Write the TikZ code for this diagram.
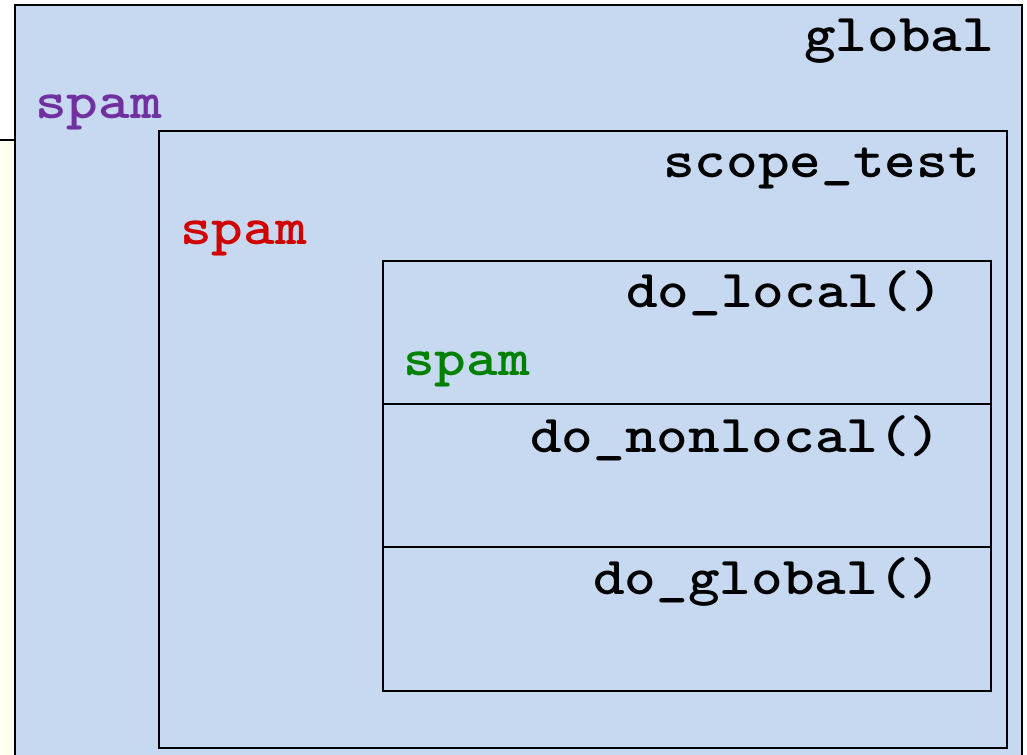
\documentclass[tikz,border=0pt]{standalone}
\usepackage{fontspec}
\newfontfamily\codefont{lmmonolt10-bold}[Extension=.otf, FakeStretch=1.13]
\definecolor{scopeblue}{HTML}{C6D9F0}
\definecolor{paleyellow}{HTML}{FFFFF0}
\definecolor{globalpurple}{HTML}{7030A0}
\definecolor{enclosingred}{HTML}{D00000}
\definecolor{localgreen}{HTML}{008000}
\tikzset{
  frame/.style={draw=black, line width=1.6pt},
  outerframe/.style={draw=black, line width=1.9pt},
  label/.style={inner sep=0pt, anchor=base west, font=\codefont\fontsize{40}{41}\selectfont},
}
\begin{document}
\begin{tikzpicture}[x={(0.75pt,0)}, y={(0,-0.75pt)}]
  \useasboundingbox (0,0) rectangle (1027,755);
  \clip (0,0) rectangle (1027,755);
  % page background: white above, pale yellow panel on the left
  \fill[white] (0,0) rectangle (1027,755);
  \fill[paleyellow] (0,140) rectangle (16,755);
  \draw[line width=1.5pt] (0,140) -- (16,140);
  % module (global) scope
  \draw[outerframe, fill=scopeblue] (15,5) rectangle (1022,800);
  % enclosing function scope
  \draw[frame] (159,131) rectangle (1007,748);
  % the three nested function scopes
  \draw[frame] (383,261) rectangle (991,691);
  \draw[frame] (383,404) -- (991,404);
  \draw[frame] (383,547) -- (991,547);
  % labels
  \node[label] (globalname) at (804,52) {global};
  \node[label, text=globalpurple] (spamglobal) at (35,119) {spam};
  \node[label] (scopetest) at (663,178) {scope\_test};
  \node[label, text=enclosingred] (spamenclosing) at (180,245) {spam};
  \node[label] (dolocal) at (626,308) {do\_local()};
  \node[label, text=localgreen] (spamlocal) at (403,375) {spam};
  \node[label] (dononlocal) at (530,452) {do\_nonlocal()};
  \node[label] (doglobal) at (593,594) {do\_global()};
\end{tikzpicture}
\end{document}
